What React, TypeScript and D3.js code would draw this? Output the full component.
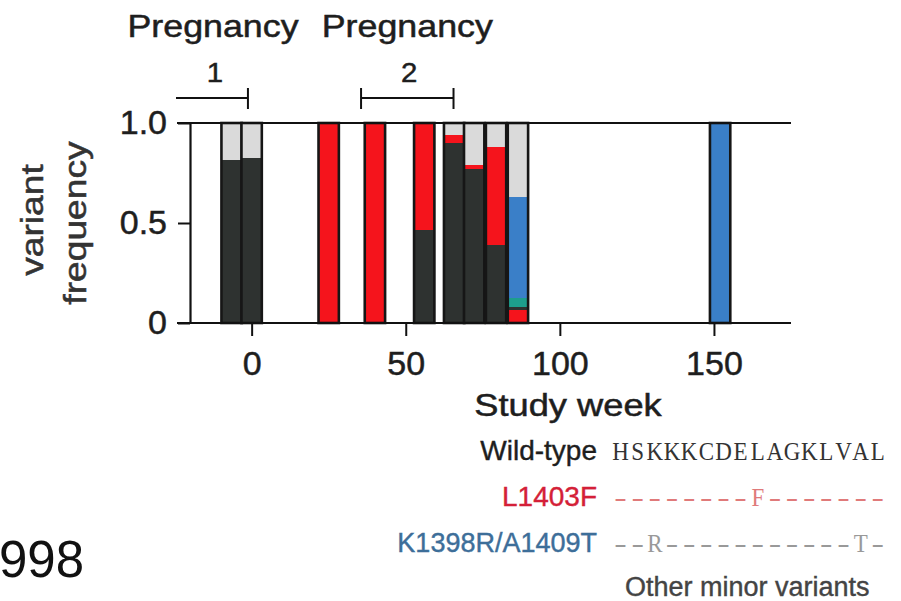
import * as d3 from "d3";
import React, { useEffect, useRef } from "react";

// samples (study week) and the variant frequencies
const sampleWeeks = [-6.5, 0, 25, 40, 56, 65.7, 72.2, 79.3, 86.4, 152];
const wildType = [0.815, 0.825, 0, 0, 0.465, 0.9, 0.77, 0.39, 0.015, 0];
const l1403f = [0, 0, 1, 1, 0.535, 0.04, 0.02, 0.49, 0.065, 0];
const k1398r = [0, 0, 0, 0, 0, 0, 0, 0, 0.505, 1];
const tealMinor = [0, 0, 0, 0, 0, 0, 0, 0, 0.045, 0];
const otherMinor = [0.185, 0.175, 0, 0, 0, 0.06, 0.21, 0.12, 0.37, 0];

// bottom-to-top stacking of each sample
const defaultOrder = ["wt", "L1403F", "teal", "K1398R", "other"];
const stackOrders = [
  defaultOrder, defaultOrder, defaultOrder, defaultOrder, defaultOrder,
  defaultOrder, defaultOrder, defaultOrder,
  ["L1403F", "wt", "teal", "K1398R", "other"],
  defaultOrder,
];

const xTicks = [0, 50, 100, 150];
const yTicks = [0, 0.5, 1];
const pregnancies = [
  { label: "1", start: -24, end: -1.2, leftCap: false },
  { label: "2", start: 35.5, end: 65.5, leftCap: true },
];

const legendLabels = ["Wild-type", "L1403F", "K1398R/A1409T"];
const legendSeqs = ["HSKKKCDELAGKLVAL", "--------F-------", "--R-----------T-"];

const colors: Record<string, string> = {
  wt: "#2e3230",
  L1403F: "#f5141c",
  K1398R: "#3a7fc8",
  teal: "#1d9e8c",
  other: "#dadada",
};

const SANS = "'Liberation Sans', Arial, Helvetica, sans-serif";
const SERIF = "'Liberation Serif', 'Times New Roman', serif";

const App: React.FC = () => {
  const svgRef = useRef<SVGSVGElement | null>(null);

  useEffect(() => {
    if (!svgRef.current) return;
    const svg = d3.select(svgRef.current);
    svg.selectAll("*").remove();

    const x = d3.scaleLinear().domain([-20, 175]).range([190, 791]);
    const y = d3.scaleLinear().domain([0, 1]).range([323, 123]);

    const values: Record<string, number[]> = {
      wt: wildType,
      L1403F: l1403f,
      K1398R: k1398r,
      teal: tealMinor,
      other: otherMinor,
    };

    // === Bars ===
    const barW = x(6.6) - x(0);
    const bars = svg.append("g");
    sampleWeeks.forEach((wk, i) => {
      const x0 = x(wk) - barW / 2;
      let acc = 0;
      stackOrders[i].forEach((key) => {
        const v = values[key][i];
        if (!v) return;
        bars
          .append("rect")
          .attr("x", x0)
          .attr("width", barW)
          .attr("y", y(acc + v))
          .attr("height", y(acc) - y(acc + v))
          .attr("fill", colors[key]);
        acc += v;
      });
      bars
        .append("rect")
        .attr("x", x0)
        .attr("width", barW)
        .attr("y", y(1))
        .attr("height", y(0) - y(1))
        .attr("fill", "none")
        .attr("stroke", "#161616")
        .attr("stroke-width", 2.6);
    });

    // === Frame lines at 0 and 1 ===
    [0, 1].forEach((v) => {
      svg
        .append("line")
        .attr("x1", 177)
        .attr("x2", x(175))
        .attr("y1", y(v))
        .attr("y2", y(v))
        .attr("stroke", "#111")
        .attr("stroke-width", 2.2);
    });

    // === Axes ===
    const yAxis = svg
      .append("g")
      .attr("transform", `translate(${x(-20)},0)`)
      .call(
        d3
          .axisLeft(y)
          .tickValues(yTicks)
          .tickSize(12)
          .tickSizeOuter(0)
          .tickPadding(11)
          .tickFormat((d) => (+d === 0 ? "0" : d3.format(".1f")(+d)))
      );
    yAxis.select(".domain").attr("stroke", "#111").attr("stroke-width", 2.2);
    yAxis.selectAll("line").attr("stroke", "#111").attr("stroke-width", 2);
    yAxis
      .selectAll("text")
      .attr("font-family", SANS)
      .attr("font-size", 34)
      .attr("fill", "#1e1e1e")
      .attr("stroke", "#1e1e1e")
      .attr("stroke-width", 0.5);

    const xAxis = svg
      .append("g")
      .attr("transform", `translate(0,${y(0)})`)
      .call(
        d3
          .axisBottom(x)
          .tickValues(xTicks)
          .tickSize(13)
          .tickPadding(15)
          .tickFormat((d) => String(d))
      );
    xAxis.select(".domain").remove();
    xAxis.selectAll("line").attr("stroke", "#111").attr("stroke-width", 2);
    xAxis
      .selectAll("text")
      .attr("font-family", SANS)
      .attr("font-size", 34)
      .attr("fill", "#1e1e1e")
      .attr("stroke", "#1e1e1e")
      .attr("stroke-width", 0.5);

    // stretched text helper (the figure's font runs wider than Arial)
    const label = (
      txt: string,
      tx: number,
      ty: number,
      size: number,
      sx: number,
      rotate = 0,
      fill = "#1e1e1e"
    ) =>
      svg
        .append("text")
        .attr("transform", `translate(${tx},${ty}) rotate(${rotate}) scale(${sx},1)`)
        .attr("text-anchor", "middle")
        .attr("font-family", SANS)
        .attr("font-size", size)
        .attr("fill", fill)
        .attr("stroke", fill)
        .attr("stroke-width", 0.5)
        .text(txt);

    label("Study week", 568, 416, 31, 1.17);
    label("variant", 43, 220, 31, 1.2, -90, "#333");
    label("frequency", 86, 223, 31, 1.2, -90, "#333");

    // === Pregnancy brackets ===
    const by = 98;
    pregnancies.forEach((p) => {
      const x1 = p.leftCap ? x(p.start) : 176;
      const x2 = x(p.end);
      const g = svg.append("g").attr("stroke", "#111").attr("stroke-width", 2);
      g.append("line").attr("x1", x1).attr("x2", x2).attr("y1", by).attr("y2", by);
      g.append("line").attr("x1", x2).attr("x2", x2).attr("y1", by - 10).attr("y2", by + 11);
      if (p.leftCap)
        g.append("line").attr("x1", x1).attr("x2", x1).attr("y1", by - 10).attr("y2", by + 11);
      const cx = p.leftCap ? (x1 + x2) / 2 : 213;
      label("Pregnancy", cx, 37, 31, 1.155);
      label(p.label, cx + 2, 82, 28, 1.05);
    });

    // === Legend ===
    const legendColors = ["#1e1e1e", "#d41f38", "#3d6e99"];
    const seqColors = ["#333", "#e07a7a", "#999"];
    const baselines = [460, 506, 552];
    const pitch = 17.15;
    legendLabels.forEach((t, i) => {
      svg
        .append("text")
        .attr("x", 597)
        .attr("y", baselines[i])
        .attr("text-anchor", "end")
        .attr("font-family", SANS)
        .attr("font-size", i === 2 ? 27 : 28)
        .attr("fill", legendColors[i])
        .attr("stroke", legendColors[i])
        .attr("stroke-width", 0.4)
        .text(t);
      // Courier-like sequence: one glyph per fixed-pitch cell
      svg
        .append("g")
        .selectAll("text")
        .data(legendSeqs[i].split(""))
        .join("text")
        .attr("transform", (c, j) => {
          const cx = 612 + (j + 0.5) * pitch;
          return `translate(${cx},${baselines[i]}) scale(${c === "-" ? 1.5 : 0.92},1)`;
        })
        .attr("text-anchor", "middle")
        .attr("font-family", SERIF)
        .attr("font-size", 25)
        .attr("fill", seqColors[i])
        .text((c) => c);
    });
    svg
      .append("text")
      .attr("x", 625)
      .attr("y", 596)
      .attr("font-family", SANS)
      .attr("font-size", 27)
      .attr("fill", "#444")
      .attr("stroke", "#444")
      .attr("stroke-width", 0.4)
      .text("Other minor variants");

    // cropped year fragment at lower left
    svg
      .append("text")
      .attr("x", -1)
      .attr("y", 577)
      .attr("font-family", SANS)
      .attr("font-size", 51)
      .attr("fill", "#111")
      .text("998");
  }, []);

  return (
    <div style={{ position: "absolute", left: 0, top: 0 }}>
      <svg ref={svgRef} width={901} height={601} style={{ display: "block", background: "#fff" }}></svg>
    </div>
  );
};

export default App;
